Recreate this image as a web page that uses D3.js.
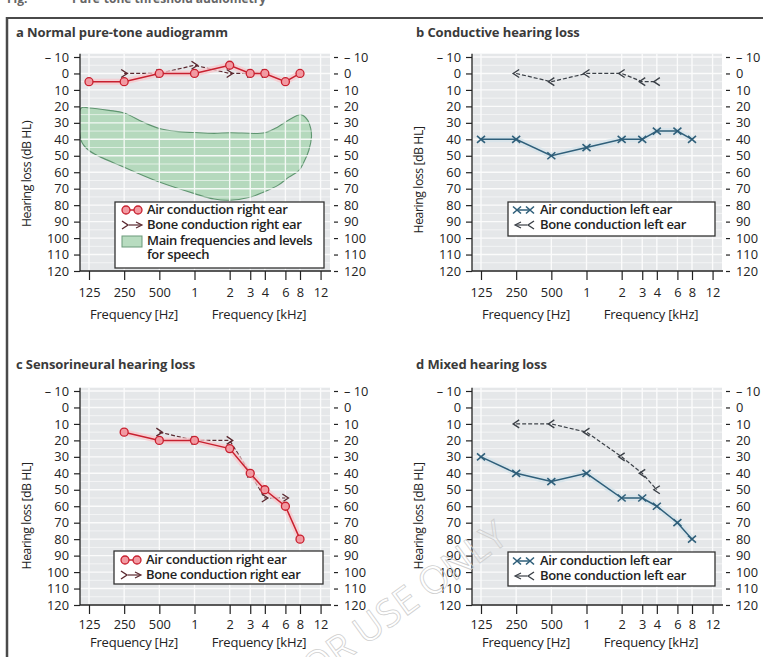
<!DOCTYPE html>
<html>
<head>
<meta charset="utf-8">
<script src="https://cdn.jsdelivr.net/npm/d3@7"></script>
<style>
  body { margin: 0; background: #fff; }
  svg { display: block; font-family: "Open Sans", "Liberation Sans", sans-serif; }
</style>
</head>
<body>
<svg id="fig" width="763" height="657"></svg>
<script>
// axis ticks
var freqTicks = [125, 250, 500, 1000, 2000, 3000, 4000, 6000, 8000, 12000];
var freqLabels = ["125", "250", "500", "1", "2", "3", "4", "6", "8", "12"];
var dbTicks = [-10, 0, 10, 20, 30, 40, 50, 60, 70, 80, 90, 100, 110, 120];
var dbLabels = ["– 10", "0", "10", "20", "30", "40", "50", "60", "70", "80", "90", "100", "110", "120"];

// a  normal
var aAirFreq = [125, 250, 500, 1000, 2000, 3000, 4000, 6000, 8000];
var aAirDb = [5, 5, 0, 0, -5, 0, 0, 5, 0];
var aBoneFreq = [250, 500, 1000, 2000, 3000, 4000];
var aBoneDb = [0, 0, -5, 0, 0, 0];

// speech area (outline, clockwise)
var speechFreq = [107, 125, 185, 250, 362, 500, 694, 1000, 1470, 2000, 4000, 5170, 6000, 7640, 8200, 9330, 9890, 10030,
                  9510, 8620, 7810, 6420, 5170, 3920, 3040, 2000, 1470, 1000, 500, 250, 125, 107];
var speechDb = [21, 21, 22.4, 24, 29.5, 33.4, 35.2, 35.9, 36.4, 36, 36, 32.5, 29.5, 25.4, 25, 28.5, 33.5, 38.6,
                46.8, 54, 59, 63, 68, 72, 75, 77, 76.3, 73, 66, 57, 46.8, 40.7];

// b  conductive
var bAirFreq = [125, 250, 500, 1000, 2000, 3000, 4000, 6000, 8000];
var bAirDb = [40, 40, 50, 45, 40, 40, 35, 35, 40];
var bBoneFreq = [250, 500, 1000, 2000, 3000, 4000];
var bBoneDb = [0, 5, 0, 0, 5, 5];

// c  sensorineural
var cAirFreq = [250, 500, 1000, 2000, 3000, 4000, 6000, 8000];
var cAirDb = [15, 20, 20, 25, 40, 50, 60, 80];
var cBoneFreq = [500, 1000, 2000, 3000, 4000, 6000];
var cBoneDb = [15, 20, 20, 40, 55, 55];

// d  mixed
var dAirFreq = [125, 250, 500, 1000, 2000, 3000, 4000, 6000, 8000];
var dAirDb = [30, 40, 45, 40, 55, 55, 60, 70, 80];
var dBoneFreq = [250, 500, 1000, 2000, 3000, 4000];
var dBoneDb = [10, 10, 15, 30, 40, 50];

var svg = d3.select("#fig");
var ink = "#222";

var styles = {
  airR:  { color: "#c8202f", w: 1.5, dash: null, halo: "#f6c9cd" },
  boneR: { color: "#5b2930", w: 1.2, dash: "4,2", halo: null },
  airL:  { color: "#2f5f7a", w: 1.5, dash: null, halo: "#d6e3ea" },
  boneL: { color: "#3b4047", w: 1.2, dash: "4,2", halo: null }
};

var panels = [
  { title: "a Normal pure-tone audiogramm", x0: 80, top: 57, bottom: 271, titleY: 37, tickY: 26, freqY: 48,
    ylab: "Hearing loss (dB HL)", labY: 174, speech: true,
    series: [["airR", aAirFreq, aAirDb], ["boneR", aBoneFreq, aBoneDb]],
    legend: { x: 115, y: 202, w: 209, h: 66, rows: [["airR", "Air conduction right ear", 214], ["boneR", "Bone conduction right ear", 229],
              ["speech", "Main frequencies and levels", 245], [null, "for speech", 259]] } },
  { title: "b Conductive hearing loss", x0: 472, top: 57, bottom: 271, titleY: 37, tickY: 26, freqY: 48,
    ylab: "Hearing loss [dB HL]", labY: 180,
    series: [["airL", bAirFreq, bAirDb], ["boneL", bBoneFreq, bBoneDb]],
    legend: { x: 508, y: 202, w: 207, h: 34, rows: [["airL", "Air conduction left ear", 214], ["boneL", "Bone conduction left ear", 229]] } },
  { title: "c Sensorineural hearing loss", x0: 80, top: 391, bottom: 605, titleY: 369, tickY: 24, freqY: 42,
    ylab: "Hearing loss [dB HL]", labY: 516,
    series: [["airR", cAirFreq, cAirDb], ["boneR", cBoneFreq, cBoneDb]],
    legend: { x: 114, y: 551, w: 209, h: 33, rows: [["airR", "Air conduction right ear", 564], ["boneR", "Bone conduction right ear", 579]] } },
  { title: "d Mixed hearing loss", x0: 472, top: 391, bottom: 605, titleY: 369, tickY: 24, freqY: 42,
    ylab: "Hearing loss [dB HL]", labY: 516,
    series: [["airL", dAirFreq, dAirDb], ["boneL", dBoneFreq, dBoneDb]],
    legend: { x: 508, y: 552, w: 207, h: 34, rows: [["airL", "Air conduction left ear", 565], ["boneL", "Bone conduction left ear", 580]] } }
];

function chevron(dir, s) {
  return "M" + (-3 * dir) + "," + (-s) + "L" + (3 * dir) + ",0L" + (-3 * dir) + "," + s;
}

function marker(g, kind, px, py) {
  var st = styles[kind];
  if (kind == "airR") {
    g.append("circle").attr("cx", px).attr("cy", py).attr("r", 4)
      .attr("fill", "#f29aa2").attr("stroke", st.color).attr("stroke-width", 1.3);
  } else if (kind == "airL") {
    g.append("path").attr("d", "M" + (px - 4) + "," + (py - 3.5) + "L" + (px + 4) + "," + (py + 3.5) +
        "M" + (px - 4) + "," + (py + 3.5) + "L" + (px + 4) + "," + (py - 3.5))
      .attr("stroke", st.color).attr("stroke-width", 1.6).attr("fill", "none");
  } else {
    var dir = kind == "boneR" ? 1 : -1;
    g.append("path").attr("d", chevron(dir, 4)).attr("transform", "translate(" + px + "," + py + ")")
      .attr("stroke", st.color).attr("stroke-width", 1.4).attr("fill", "none");
  }
}

function drawSeries(g, x, y, kind, fr, db) {
  var st = styles[kind];
  var pts = fr.map(function(f, i) { return [x(f), y(db[i])]; });
  var line = d3.line();
  if (st.halo) {
    g.append("path").attr("d", line(pts)).attr("fill", "none").attr("stroke", st.halo)
      .attr("stroke-width", 6).attr("stroke-linejoin", "round").attr("opacity", 0.8);
  }
  g.append("path").attr("d", line(pts)).attr("fill", "none").attr("stroke", st.color)
    .attr("stroke-width", st.w).attr("stroke-dasharray", st.dash);
  pts.forEach(function(p) { marker(g, kind, p[0], p[1]); });
}

function legendSwatch(g, kind, lx, ly) {
  var st = styles[kind] || {};
  var c = ly - 4;
  if (kind == "airR") {
    g.append("line").attr("x1", lx + 8).attr("x2", lx + 20).attr("y1", c).attr("y2", c).attr("stroke", st.color).attr("stroke-width", 1.5);
    marker(g, "airR", lx + 8, c); marker(g, "airR", lx + 20, c);
  } else if (kind == "airL") {
    g.append("line").attr("x1", lx + 6).attr("x2", lx + 19).attr("y1", c).attr("y2", c).attr("stroke", st.color).attr("stroke-width", 1.5);
    marker(g, "airL", lx + 6, c); marker(g, "airL", lx + 19, c);
  } else if (kind == "boneR") {
    marker(g, "boneR", lx + 7, c);
    g.append("line").attr("x1", lx + 11).attr("x2", lx + 23).attr("y1", c).attr("y2", c).attr("stroke", st.color).attr("stroke-width", 1.2);
    g.append("path").attr("d", chevron(1, 3)).attr("transform", "translate(" + (lx + 21) + "," + c + ")")
      .attr("stroke", st.color).attr("stroke-width", 1.2).attr("fill", "none");
  } else if (kind == "boneL") {
    g.append("line").attr("x1", lx + 5).attr("x2", lx + 16).attr("y1", c).attr("y2", c).attr("stroke", st.color).attr("stroke-width", 1.2);
    g.append("path").attr("d", chevron(-1, 3)).attr("transform", "translate(" + (lx + 7) + "," + c + ")")
      .attr("stroke", st.color).attr("stroke-width", 1.2).attr("fill", "none");
    marker(g, "boneL", lx + 20, c);
  } else if (kind == "speech") {
    g.append("rect").attr("x", lx + 4).attr("y", ly - 9).attr("width", 20).attr("height", 11)
      .attr("fill", "#b8dcc0").attr("stroke", "#6b9a7a").attr("stroke-width", 1);
  }
}

// header (cut off at the top) and frame
svg.append("text").attr("x", 7).attr("y", 3).attr("font-size", 12).attr("font-weight", 700).attr("fill", "#666").text("Fig.");
svg.append("text").attr("x", 72).attr("y", 3).attr("font-size", 12).attr("font-weight", 700).attr("fill", "#666").text("Pure-tone threshold audiometry");
svg.append("line").attr("x1", 6).attr("x2", 763).attr("y1", 18).attr("y2", 18).attr("stroke", "#4a4a4a").attr("stroke-width", 2);
svg.append("line").attr("x1", 7).attr("x2", 7).attr("y1", 17).attr("y2", 657).attr("stroke", "#4a4a4a").attr("stroke-width", 2.5);

panels.forEach(function(p, pi) {
  var g = svg.append("g");
  var x = d3.scaleLog().domain([125, 8000]).range([p.x0 + 9, p.x0 + 220]);
  var y = d3.scaleLinear().domain([-10, 120]).range([p.top, p.bottom]);
  var right = p.x0 + 250;
  var gTop = y(-12);

  g.append("text").attr("x", pi % 2 ? 416 : 16).attr("y", p.titleY).attr("font-size", 13).attr("font-weight", 700)
    .attr("letter-spacing", -0.1).attr("fill", "#3a3a3a").text(p.title);

  // background
  g.append("rect").attr("x", p.x0).attr("y", gTop).attr("width", right - p.x0).attr("height", p.bottom - gTop).attr("fill", "#e5e7e9");

  var clipId = "clip" + pi;
  g.append("clipPath").attr("id", clipId).append("rect").attr("x", p.x0).attr("y", gTop).attr("width", right - p.x0).attr("height", p.bottom - gTop);

  if (p.speech) {
    var spts = speechFreq.map(function(f, i) { return [x(f), y(speechDb[i])]; });
    g.append("path").attr("clip-path", "url(#" + clipId + ")")
      .attr("d", d3.line().curve(d3.curveCatmullRomClosed.alpha(0.5))(spts))
      .attr("fill", "#b5d9bd").attr("stroke", "#5f9570").attr("stroke-width", 1.1);
  }

  // grid
  var grid = g.append("g").attr("stroke", "#fff").attr("opacity", 0.85);
  d3.range(-10, 121, 5).forEach(function(v) {
    grid.append("line").attr("x1", p.x0).attr("x2", right).attr("y1", y(v)).attr("y2", y(v))
      .attr("stroke-width", v % 10 == 0 ? 1.4 : 0.7);
  });
  freqTicks.forEach(function(f) {
    grid.append("line").attr("x1", x(f)).attr("x2", x(f)).attr("y1", gTop).attr("y2", p.bottom).attr("stroke-width", 1.4);
  });

  // axes
  var left = g.append("g").attr("transform", "translate(" + p.x0 + ",0)")
    .call(d3.axisLeft(y).tickValues(dbTicks).tickFormat(function(d, i) { return dbLabels[i]; }).tickSize(6).tickSizeOuter(0).tickPadding(5));
  left.select(".domain").remove();
  var rightAx = g.append("g").attr("transform", "translate(" + (right + 4) + ",0)")
    .call(d3.axisRight(y).tickValues(dbTicks).tickFormat(function(d, i) { return dbLabels[i]; }).tickSize(4).tickPadding(6));
  rightAx.select(".domain").remove();
  var bottom = g.append("g").attr("transform", "translate(0," + p.bottom + ")")
    .call(d3.axisBottom(x).tickValues(freqTicks).tickFormat(function(d, i) { return freqLabels[i]; }).tickSize(9));
  bottom.select(".domain").remove();
  bottom.selectAll("text").attr("y", p.tickY).attr("dy", null);
  [left, rightAx, bottom].forEach(function(a) {
    a.attr("font-family", null).attr("font-size", 12.8);
    a.selectAll("text").attr("fill", ink);
    a.selectAll("line").attr("stroke", ink).attr("stroke-width", 1.2);
  });
  g.append("line").attr("x1", p.x0).attr("x2", p.x0).attr("y1", gTop).attr("y2", p.bottom).attr("stroke", ink).attr("stroke-width", 1.3);
  g.append("line").attr("x1", p.x0).attr("x2", right + 1).attr("y1", p.bottom).attr("y2", p.bottom).attr("stroke", ink).attr("stroke-width", 1.3);

  g.append("text").attr("x", p.x0 + 54).attr("y", p.bottom + p.freqY).attr("text-anchor", "middle")
    .attr("font-size", 13).attr("letter-spacing", -0.2).attr("fill", ink).text("Frequency [Hz]");
  g.append("text").attr("x", p.x0 + 179).attr("y", p.bottom + p.freqY).attr("text-anchor", "middle")
    .attr("font-size", 13).attr("letter-spacing", -0.2).attr("fill", ink).text("Frequency [kHz]");
  g.append("text").attr("transform", "translate(" + (p.x0 - 49) + "," + p.labY + ") rotate(-90)")
    .attr("text-anchor", "middle").attr("font-size", 12.3).attr("letter-spacing", -0.45).attr("fill", ink).text(p.ylab);

  // data
  p.series.slice().reverse().forEach(function(s) { drawSeries(g, x, y, s[0], s[1], s[2]); });

  // legend
  var L = p.legend;
  g.append("rect").attr("x", L.x).attr("y", L.y).attr("width", L.w).attr("height", L.h)
    .attr("fill", "#fff").attr("stroke", "#333").attr("stroke-width", 1.3);
  L.rows.forEach(function(r) {
    if (r[0]) legendSwatch(g, r[0], L.x + 3, r[2]);
    g.append("text").attr("x", L.x + 32).attr("y", r[2]).attr("font-size", 13).attr("font-weight", 600)
      .attr("letter-spacing", -0.35).attr("fill", ink).text(r[1]);
  });
});

// watermark
svg.append("text").attr("transform", "translate(510,541) rotate(-36)").attr("text-anchor", "end")
  .attr("font-size", 38).attr("font-weight", 400).attr("fill", "none").attr("stroke", "#cfcfcf").attr("stroke-width", 0.8)
  .text("FOR USE ONLY");
</script>
</body>
</html>
